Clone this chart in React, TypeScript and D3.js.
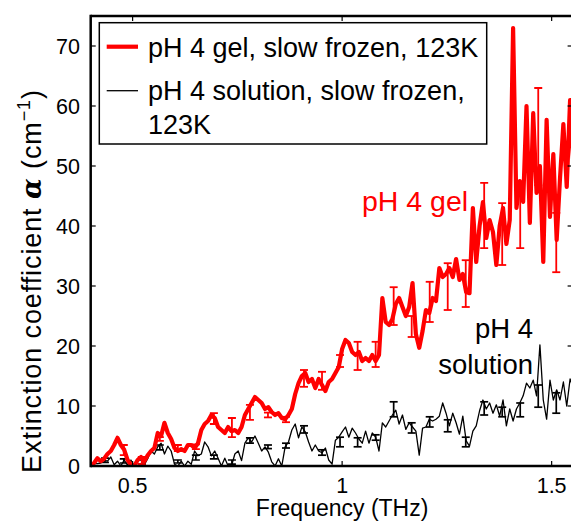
import React from "react";
import * as d3 from "d3";

// frequency grid (THz) — spectra sampled every 0.008 THz from 0.4 THz
const freqStart = 0.4;
const freqStep = 0.008;

const gelValues = [
  0, 0.5, 1.3, 0.8, 1.2, 2.0, 2.5, 3.5, 4.7, 3.5, 2.7, 1.0, 0.2, 0, 1.0, 1.5, 0.8, 1.8, 2.5, 3.0,
  5.5, 5.0, 7.2, 5.5, 4.5, 3.0, 2.5, 2.8, 2.5, 3.5, 3.5, 3.0, 3.8, 6.0, 7.0, 7.5, 8.5, 8.0, 6.5, 6.0,
  5.5, 6.5, 5.8, 6.0, 5.5, 6.5, 8.5, 9.5, 10.5, 11.5, 11.0, 10.5, 9.5, 9.8, 9.0, 8.5, 8.8, 8.0, 7.8, 8.5,
  9.5, 12.0, 13.8, 15.0, 15.5, 14.0, 14.5, 13.0, 14.5, 13.5, 12.5, 14.0, 14.5, 15.5, 16.5, 19.5, 21.0, 20.5, 19.0, 18.5,
  19.0, 17.5, 18.0, 17.5, 18.5, 17.5, 18.5, 28.0, 24.0, 23.5, 24.5, 27.0, 28.0, 26.5, 25.0, 26.5, 30.5, 22.0, 19.7, 22.5,
  26.0, 25.5, 28.0, 27.5, 33.0, 31.5, 32.0, 33.0, 31.5, 34.5, 31.0, 32.0, 29.0, 28.8, 43.0, 34.0, 40.0, 44.0, 38.0, 41.0,
  39.0, 33.5, 40.0, 43.0, 37.0, 41.0, 73.0, 43.0, 47.5, 44.0, 60.0, 40.5, 58.8, 45.5, 50.0, 34.0, 57.7, 41.5, 52.0, 37.7,
  48.0, 57.0, 46.5, 61.0, 50.0,
];

const solutionValues = [
  0.3, 0.4, 0.4, 0.5, 1.0, 0.8, 1.5, 0.2, 0.8, 0, 1.0, 0.1, 1.0, 0, 0, 0, 0.2, 1.2, 2.5, 2.0,
  3.2, 3.8, 2.0, 3.3, 2.5, 0.3, 0, 0.8, 0, 0.8, 0.3, 2.5, 1.7, 2.0, 4.0, 3.2, 1.7, 2.5, 1.3, 0,
  1.3, 0, 0, 2.0, 2.5, 0.9, 3.8, 4.7, 4.0, 5.0, 3.8, 2.5, 3.2, 2.3, 0.7, 0, 1.2, 0, 3.2, 4.0,
  6.0, 7.0, 4.7, 6.5, 5.7, 4.0, 2.5, 3.5, 2.5, 2.2, 3.0, 1.0, 0.3, 4.3, 4.8, 5.7, 6.5, 4.8, 6.3, 5.5,
  4.5, 3.8, 5.8, 3.8, 5.5, 4.8, 2.5, 7.2, 6.5, 7.5, 8.5, 9.3, 7.0, 8.5, 6.1, 7.2, 6.5, 5.8, 1.8, 6.3,
  6.5, 7.8, 7.5, 7.8, 8.3, 10.5, 8.8, 6.7, 8.8, 7.2, 5.3, 8.3, 4.2, 3.3, 5.8, 6.7, 9.2, 11.0, 9.5, 10.5,
  8.8, 10.2, 8.3, 11.0, 6.7, 9.5, 7.5, 9.5, 10.5, 11.7, 13.8, 13.0, 14.3, 11.7, 20.2, 11.0, 7.8, 14.3, 11.0, 12.7,
  11.0, 14.0, 10.0, 14.5, 13.0,
];

// error bars: frequency, lower, upper
const gelErrFreq = [0.479, 0.522, 0.565, 0.608, 0.651, 0.694, 0.737, 0.780, 0.823, 0.866, 0.909, 0.952, 0.995, 1.037, 1.080, 1.123, 1.166, 1.209, 1.252, 1.295, 1.339, 1.382, 1.425, 1.468, 1.511];
const gelErrLow = [1.8, 0.3, 4.2, 2.5, 2.8, 7.0, 4.8, 7.7, 8.1, 7.3, 13.2, 12.7, 16.5, 16.0, 16.5, 23.5, 21.5, 24.0, 26.0, 26.5, 36.3, 33.5, 36.3, 46.8, 32.3];
const gelErrHigh = [3.5, 1.5, 4.8, 3.5, 3.6, 8.8, 8.0, 10.2, 8.9, 8.2, 16.0, 15.7, 18.5, 20.7, 20.7, 29.8, 25.0, 30.7, 33.8, 34.3, 47.2, 43.8, 47.3, 63.0, 42.2];

const solErrFreq = [0.434, 0.479, 0.522, 0.565, 0.608, 0.651, 0.694, 0.737, 0.780, 0.823, 0.866, 0.909, 0.952, 0.995, 1.037, 1.080, 1.123, 1.166, 1.209, 1.252, 1.295, 1.339, 1.382, 1.425, 1.468, 1.511];
const solErrLow = [0.6, 0.5, 0.3, 2.7, 0.5, 1.0, 1.2, 0.3, 3.8, 2.9, 3.0, 5.5, 1.8, 3.2, 3.2, 4.3, 8.2, 5.5, 6.5, 5.7, 3.2, 8.5, 8.2, 8.2, 9.8, 8.8];
const solErrHigh = [1.3, 1.2, 1.0, 3.5, 1.0, 1.8, 1.8, 1.0, 4.7, 3.5, 3.8, 6.7, 2.7, 4.8, 4.7, 5.2, 10.7, 7.2, 8.2, 7.7, 4.8, 10.7, 9.8, 10.5, 13.5, 12.2];

const xTicks = [0.5, 1, 1.5];
const xTickLabels = ["0.5", "1", "1.5"];
const yTicks = [0, 10, 20, 30, 40, 50, 60, 70];

const legendLabels = ["pH 4 gel, slow frozen, 123K", "pH 4 solution, slow frozen,", "123K"];

const W = 571;
const H = 521;
const FONT = "'Liberation Sans', Arial, Helvetica, sans-serif";

export default function App() {
  const x = d3.scaleLinear().domain([0.4, 1.55]).range([90.7, 572.6]);
  const y = d3.scaleLinear().domain([0, 75]).range([466, 16]);
  const line = d3
    .line<number>()
    .x((_, i) => x(freqStart + i * freqStep))
    .y((d) => y(d));

  const [x0, x1] = x.range();
  const [yb, yt] = y.range();
  const tickLen = 5;
  const cap = 4;

  const errBars = (fr: number[], lo: number[], hi: number[], color: string, w: number) =>
    fr.map((f, i) => (
      <g key={i} stroke={color} strokeWidth={w}>
        <line x1={x(f)} x2={x(f)} y1={y(lo[i])} y2={y(hi[i])} />
        <line x1={x(f) - cap} x2={x(f) + cap} y1={y(lo[i])} y2={y(lo[i])} />
        <line x1={x(f) - cap} x2={x(f) + cap} y1={y(hi[i])} y2={y(hi[i])} />
      </g>
    ));

  return (
    <svg
      width={W}
      height={H}
      style={{ position: "absolute", left: 0, top: 0, background: "#fff" }}
      fontFamily={FONT}
    >
      <rect width={W} height={H} fill="#fff" />
      <defs>
        <clipPath id="plot">
          <rect x={x0} y={yt} width={x1 - x0} height={yb - yt} />
        </clipPath>
      </defs>

      <g clipPath="url(#plot)">
        <path d={line(solutionValues) ?? ""} fill="none" stroke="#000" strokeWidth={1.3} strokeLinejoin="round" />
        {errBars(solErrFreq, solErrLow, solErrHigh, "#000", 1.7)}
        <path d={line(gelValues) ?? ""} fill="none" stroke="#ff0000" strokeWidth={4.2} strokeLinejoin="round" />
        {errBars(gelErrFreq, gelErrLow, gelErrHigh, "#ff0000", 1.8)}
      </g>

      {/* axes box */}
      <g stroke="#000" strokeWidth={2.5} fill="none">
        <line x1={x0} x2={x0} y1={yt - 1.25} y2={yb + 1.25} />
        <line x1={x1} x2={x1} y1={yt} y2={yb} />
        <line x1={x0} x2={x1} y1={yb} y2={yb} />
        <line x1={x0} x2={x1} y1={yt} y2={yt} />
      </g>
      <g stroke="#000" strokeWidth={1.2}>
        {xTicks.map((t) => (
          <g key={t}>
            <line x1={x(t)} x2={x(t)} y1={yb} y2={yb - tickLen} />
            <line x1={x(t)} x2={x(t)} y1={yt} y2={yt + tickLen} />
          </g>
        ))}
        {yTicks.map((t) => (
          <g key={t}>
            <line x1={x0} x2={x0 + tickLen} y1={y(t)} y2={y(t)} />
            <line x1={x1} x2={x1 - tickLen} y1={y(t)} y2={y(t)} />
          </g>
        ))}
      </g>
      <g fontSize={21.5} fill="#000">
        {xTicks.map((t, i) => (
          <text key={t} x={x(t)} y={493} textAnchor="middle">
            {xTickLabels[i]}
          </text>
        ))}
        {yTicks.map((t) => (
          <text key={t} x={80} y={y(t) + 7.7} textAnchor="end">
            {t}
          </text>
        ))}
      </g>

      {/* axis titles */}
      <text x={x(1)} y={516} textAnchor="middle" fontSize={23}>
        Frequency (THz)
      </text>
      <text
        transform="translate(41,281) rotate(-90)"
        textAnchor="middle"
        fontSize={27}
        letterSpacing={0.9}
      >
        Extinction coefficient{" "}
        <tspan fontStyle="italic" fontWeight="bold" fontFamily="'DejaVu Serif', serif">α</tspan>
        {" "}(cm
        <tspan dy={-11} fontSize={18}>−1</tspan>
        <tspan dy={11}>)</tspan>
      </text>

      {/* annotations */}
      <text x={362} y={211} fontSize={28.5} fill="#ff0000">pH 4 gel</text>
      <text x={533} y={338} fontSize={27.5} textAnchor="end">pH 4</text>
      <text x={533} y={374} fontSize={27.5} textAnchor="end">solution</text>

      {/* legend */}
      <rect x={99.3} y={22.7} width={387.4} height={121.3} fill="#fff" stroke="#000" strokeWidth={1.5} />
      <line x1={106.7} x2={138} y1={46.7} y2={46.7} stroke="#ff0000" strokeWidth={4.2} />
      <line x1={106.7} x2={138} y1={90.7} y2={90.7} stroke="#000" strokeWidth={1.3} />
      <g fontSize={27}>
        <text x={148} y={56.5}>{legendLabels[0]}</text>
        <text x={148} y={100}>{legendLabels[1]}</text>
        <text x={148} y={133.5}>{legendLabels[2]}</text>
      </g>
    </svg>
  );
}
